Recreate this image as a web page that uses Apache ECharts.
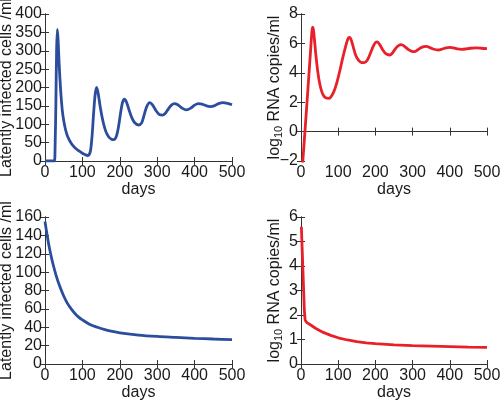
<!DOCTYPE html>
<html><head><meta charset="utf-8">
<script src="https://cdn.jsdelivr.net/npm/echarts@6/dist/echarts.min.js"></script>
<style>html,body{margin:0;padding:0;background:#fff}#c{width:500px;height:402px}</style>
</head><body><div id="c"></div>
<script>
// ---- data ----
const xLabelName = 'days';
const cellsLabel = 'Latently infected cells /ml';

// top-left: latently infected cells (untreated)
const tlDays  = [0,10,20,25,27,29,31,33,35,38,42,46,50,55,60,70,80,90,100,108,114,118,122,126,130,134,138,142,148,155,162,170,178,184,190,196,202,207,212,218,225,232,240,250,258,265,272,280,288,296,305,314,322,330,338,346,355,365,378,390,400,410,420,432,442,452,464,476,488,500];
const tlCells = [0,0,0,0,40,150,300,358,330,260,190,140,110,85,68,48,36,28,21,17,15,17,30,70,130,180,200,185,145,108,82,66,59,58,65,90,130,158,168,160,138,118,104,98,103,125,148,159,152,138,127,125,130,142,152,156,153,145,139,144,152,156,155,150,148,150,156,159,157,153];

// top-right: log10 RNA copies/ml (untreated)
const trDays = [0,10,20,26,29,31,33,36,40,45,50,56,62,68,74,80,88,96,104,112,120,126,130,134,140,147,155,163,170,178,186,194,200,205,212,220,228,238,246,254,262,270,278,288,297,305,313,322,330,337,345,355,369,380,390,400,410,420,431,442,455,471,485,500];
const trLog  = [-3.7,-0.2,3.4,5.6,6.7,7.1,7.0,6.3,5.2,4.1,3.3,2.7,2.4,2.28,2.26,2.35,2.7,3.3,4.1,5.0,5.8,6.3,6.4,6.3,5.8,5.2,4.85,4.7,4.69,4.85,5.3,5.8,6.05,6.1,5.9,5.55,5.3,5.21,5.35,5.65,5.85,5.91,5.8,5.6,5.47,5.44,5.55,5.7,5.78,5.8,5.73,5.62,5.55,5.62,5.7,5.73,5.7,5.63,5.6,5.62,5.67,5.69,5.67,5.64];

// bottom-left: latently infected cells (treated)
const blDays  = [0,5,10,15,20,30,40,50,60,70,80,90,100,120,140,160,180,200,250,300,350,400,450,500];
const blCells = [155,142,130,120,111,96,84,74,66,60,55,51,48,43,40,37.5,35.5,34,31.5,30,29,28,27.2,26.5];

// bottom-right: log10 RNA copies/ml (treated)
const brDays = [1,3,5,7,9,11,13,15,20,30,40,50,60,80,100,125,150,175,200,250,300,350,400,450,500];
const brLog  = [5.6,4.75,3.9,3.05,2.2,1.8,1.73,1.7,1.65,1.55,1.45,1.37,1.29,1.17,1.07,0.98,0.91,0.86,0.83,0.78,0.75,0.73,0.71,0.69,0.68];

const zip = (a, b) => a.map((v, i) => [v, b[i]]);

// ---- styles ----
const FONT = "'Liberation Sans', Arial, Helvetica, sans-serif";
const AX = '#333';
const TXT = '#1a1a1a';
const BLUE = '#2c4d9e';
const RED = '#e8202a';
const FS = 16;

const gb = {outerBoundsMode: 'none', containLabel: false};
const grids = [
  Object.assign({left: 45, top: 14, width: 187, height: 147}, gb),
  Object.assign({left: 301, top: 14, width: 186, height: 147}, gb),
  Object.assign({left: 45, top: 217, width: 187, height: 147}, gb),
  Object.assign({left: 301, top: 217, width: 186, height: 147}, gb)
];
const yCfg = [
  {min: 0, max: 400, interval: 50, name: cellsLabel, gap: 30},
  {min: -2, max: 8, interval: 2, name: '{n|log}{s|10}{n| RNA copies/ml}', gap: 17},
  {min: 0, max: 160, interval: 20, name: cellsLabel, gap: 30},
  {min: 0, max: 6, interval: 1, name: '{n|log}{s|10}{n| RNA copies/ml}', gap: 17}
];
const richName = {
  n: {fontSize: FS, fontFamily: FONT, color: TXT, lineHeight: 18},
  s: {fontSize: 11, fontFamily: FONT, color: TXT, lineHeight: 6, verticalAlign: 'bottom'}
};

const xAxes = [], yAxes = [];
for (let i = 0; i < 4; i++) {
  xAxes.push({
    type: 'value', gridIndex: i, position: 'bottom', min: 0, max: 500, interval: 100,
    name: xLabelName, nameLocation: 'middle', nameGap: 21, nameMoveOverlap: false,
    nameTextStyle: {fontSize: FS, fontFamily: FONT, color: TXT},
    axisLine: {show: true, lineStyle: {color: AX, width: 1}},
    axisTick: {show: true, inside: true, length: 4, lineStyle: {color: AX}},
    axisLabel: {fontSize: FS, fontFamily: FONT, color: TXT, margin: 4, showMaxLabel: true, showMinLabel: true, hideOverlap: false},
    splitLine: {show: false}
  });
}
for (let i = 0; i < 4; i++) {
  xAxes.push({
    type: 'value', gridIndex: i, position: 'top', min: 0, max: 500, interval: 100,
    axisLine: {show: true, lineStyle: {color: AX, width: 1}},
    axisTick: {show: true, inside: true, length: 4, lineStyle: {color: AX}},
    axisLabel: {show: false}, splitLine: {show: false}
  });
}
for (let i = 0; i < 4; i++) {
  const c = yCfg[i];
  yAxes.push({
    type: 'value', gridIndex: i, position: 'left', min: c.min, max: c.max, interval: c.interval,
    name: c.name, nameLocation: 'middle', nameGap: c.gap, nameRotate: 90, nameMoveOverlap: false,
    nameTextStyle: {fontSize: FS, fontFamily: FONT, color: TXT, rich: richName},
    axisLine: {show: true, lineStyle: {color: AX, width: 1}},
    axisTick: {show: true, inside: true, length: 4, lineStyle: {color: AX}},
    axisLabel: {fontSize: FS, fontFamily: FONT, color: TXT, margin: 3, hideOverlap: false,
      formatter: v => String(v).replace('-', '\u2212')},
    splitLine: {show: false}
  });
}
for (let i = 0; i < 4; i++) {
  const c = yCfg[i];
  yAxes.push({
    type: 'value', gridIndex: i, position: 'right', min: c.min, max: c.max, interval: c.interval,
    axisLine: {show: true, lineStyle: {color: AX, width: 1}},
    axisTick: {show: true, inside: true, length: 4, lineStyle: {color: AX}},
    axisLabel: {show: false}, splitLine: {show: false}
  });
}

const mk = (i, data, color, smooth) => ({
  type: 'line', xAxisIndex: i, yAxisIndex: i, data: data, showSymbol: false,
  smooth: smooth, clip: true, lineStyle: {color: color, width: 2.8}, animation: false
});

const chart = echarts.init(document.getElementById('c'), null, {renderer: 'canvas'});
chart.setOption({
  animation: false,
  backgroundColor: '#fff',
  grid: grids,
  xAxis: xAxes,
  yAxis: yAxes,
  series: [
    mk(0, zip(tlDays, tlCells), BLUE, 0.3),
    mk(1, zip(trDays, trLog), RED, 0.3),
    mk(2, zip(blDays, blCells), BLUE, 0.3),
    mk(3, zip(brDays, brLog), RED, false)
  ]
});
</script>
</body></html>
